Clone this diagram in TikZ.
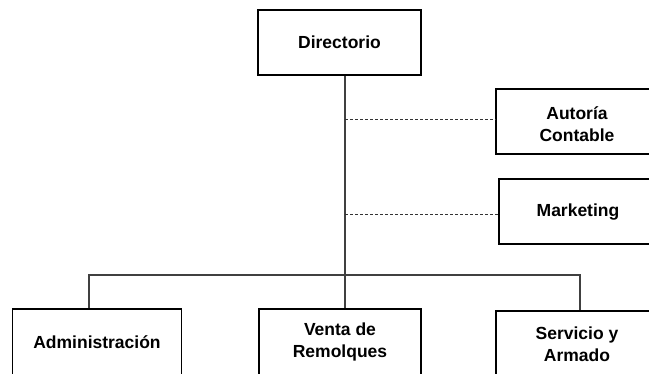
\documentclass[tikz,border=0pt]{standalone}
\usepackage{fontspec}
\setmainfont{Liberation Sans}
\begin{document}
\begin{tikzpicture}[x=1pt,y=-1pt,
  box/.style={draw=black,line width=1.8pt,fill=white,align=center,inner sep=0pt,
    font=\bfseries\fontsize{17.5}{21.5}\selectfont,minimum height=66pt},
  lbl/.style={align=center,inner sep=0pt,font=\bfseries\fontsize{17.5}{21.5}\selectfont},
  link/.style={draw=black!75,line width=1.1pt},
  dlink/.style={draw=black!80,line width=0.9pt,dash pattern=on 3pt off 2pt}]
\useasboundingbox (0,0) rectangle (649,374);
\clip (0,0) rectangle (649,374);
\fill[white] (0,0) rectangle (649,374);
\coordinate (trunk) at (345,275);
\coordinate (jl) at (89,275);
\coordinate (jr) at (580,275);
\coordinate (d1) at (345,119);
\coordinate (d2) at (345,214);
% nodes
\node[box,minimum width=163pt,minimum height=65pt] (dir) at (339.5,42.5) {Directorio};
\node[box,minimum width=162pt,minimum height=65pt] (aut) at (577,121.5) {};
\node[lbl] (autl) at (577,124) {Autoría\\Contable};
\node[box,minimum width=162pt,minimum height=65pt] (mkt) at (580,211.5) {};
\node[lbl] (mktl) at (578,212) {Marketing};
\node[box,minimum width=169pt] (adm) at (97,342) {};
\node[lbl] (adml) at (97,342) {Administración};
\node[box,minimum width=162pt] (ven) at (340,342) {Venta de\\Remolques};
\node[box,minimum width=162pt] (ser) at (577,344) {Servicio y\\Armado};
% connectors
\draw[link] (dir.south -| trunk) -- (ven.north -| trunk);
\draw[link] (adm.north -| jl) -- (jl) -- (jr) -- (ser.north -| jr);
\draw[dlink] (d1) -- (d1 -| aut.west);
\draw[dlink] (d2) -- (d2 -| mkt.west);
\end{tikzpicture}
\end{document}
